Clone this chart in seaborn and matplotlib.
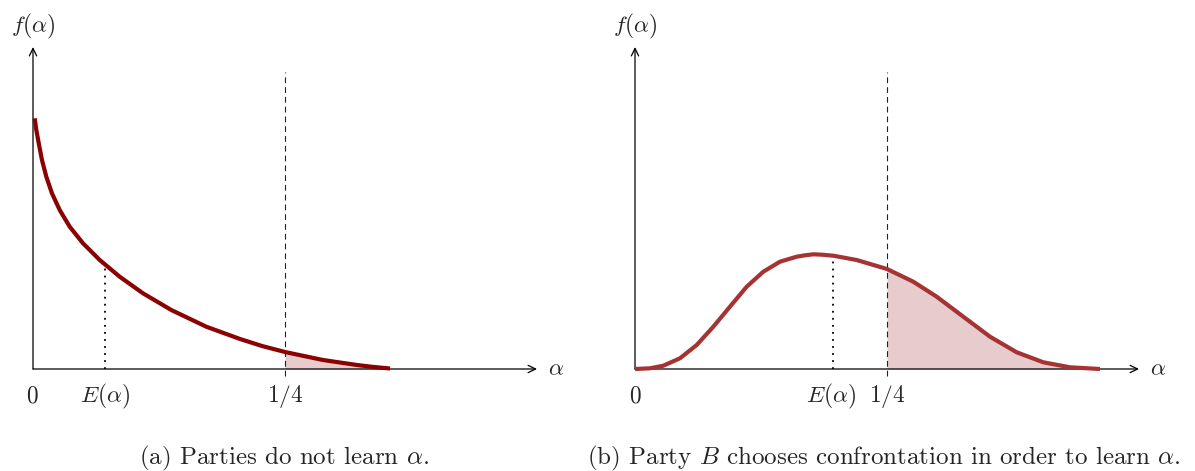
import numpy as np
import pandas as pd
import matplotlib
matplotlib.use("Agg")
import matplotlib.pyplot as plt
import seaborn as sns

# Density without learning: decreasing curve on [0, ~0.35]
alpha_a = [0.0017, 0.0033, 0.0057, 0.0089, 0.0132, 0.0188, 0.0265, 0.0364,
           0.0496, 0.0662, 0.0860, 0.1091, 0.1372, 0.1719, 0.2054, 0.2272,
           0.2500, 0.2688, 0.2877, 0.3214, 0.3363, 0.3542]
dens_a = [2.507, 2.390, 2.257, 2.090, 1.923, 1.757, 1.590, 1.423,
          1.257, 1.090, 0.923, 0.757, 0.590, 0.423, 0.300, 0.230,
          0.170, 0.130, 0.090, 0.040, 0.022, 0.005]

# Density when party B learns: hump-shaped curve on [0, ~0.46]
alpha_b = [0.0, 0.0149, 0.0281, 0.0446, 0.0612, 0.0777, 0.0942, 0.1108,
           0.1273, 0.1438, 0.1604, 0.1687, 0.1769, 0.1855, 0.1967, 0.2199,
           0.2500, 0.2761, 0.2993, 0.3257, 0.3522, 0.3787, 0.4051, 0.4315,
           0.4613]
dens_b = [0.0, 0.007, 0.033, 0.107, 0.240, 0.423, 0.623, 0.823,
          0.973, 1.073, 1.123, 1.137, 1.147, 1.143, 1.133, 1.090,
          1.000, 0.873, 0.723, 0.523, 0.323, 0.167, 0.067, 0.017,
          0.0]

threshold = 0.25
mean_a = 0.0714
mean_b = 0.1964

tick_labels_a = ["$0$", r"$E(\alpha)$", "$1/4$"]
tick_labels_b = ["$0$", r"$E(\alpha)$", "$1/4$"]
captions = [r"(a) Parties do not learn $\alpha$.",
            r"(b) Party $B$ chooses confrontation in order to learn $\alpha$."]

sns.set_theme(style="white")
plt.rcParams["mathtext.fontset"] = "cm"
plt.rcParams["font.family"] = ["cmr10", "DejaVu Serif"]
plt.rcParams["axes.formatter.use_mathtext"] = True

W, H = 1195, 471
fig = plt.figure(figsize=(W / 100, H / 100), dpi=100)

FS_LAB = 16.8
FS_CAP = 18.0
PX_X = 1008.0   # pixels per unit alpha
PX_Y = 100.0    # pixels per unit density
ORIGIN_Y = 369


def make_axes(left_px, right_px, origin_x):
    ax = fig.add_axes([left_px / W, 0, (right_px - left_px) / W, 1])
    ax.set_xlim((left_px - origin_x) / PX_X, (right_px - origin_x) / PX_X)
    ax.set_ylim((ORIGIN_Y - H) / PX_Y, ORIGIN_Y / PX_Y)
    ax.set_axis_off()
    return ax


def draw_panel(ax, xs, ys, mean, color, fill, labels, lab_pos, caption, cap_x):
    df = pd.DataFrame({"alpha": xs, "f": ys})
    # coordinate axes with arrow heads
    arrow = dict(arrowstyle="->,head_length=0.45,head_width=0.22", lw=0.9,
                 color="black", shrinkA=0, shrinkB=0)
    ax.annotate("", xy=(0.5, 0), xytext=(0, 0), arrowprops=arrow)
    ax.annotate("", xy=(0, 3.22), xytext=(0, 0), arrowprops=arrow)
    ax.text(0.519, 0.0, r"$\alpha$", fontsize=FS_LAB, ha="center", va="center")
    ax.text(0.0, 3.43, r"$f(\alpha)$", fontsize=FS_LAB, ha="center", va="center")

    # shaded tail beyond the threshold
    tail = df[df["alpha"] >= threshold]
    ax.fill_between(tail["alpha"], 0, tail["f"], color=fill, lw=0, zorder=1)

    # threshold and mean markers
    ax.plot([threshold, threshold], [-0.07, 2.97], color="#222222", lw=0.8,
            linestyle=(0, (5.2, 3.6)), zorder=2)
    f_mean = np.interp(mean, xs, ys)
    ax.plot([mean, mean], [0, f_mean], color="black", lw=1.3,
            linestyle=(0, (1.0, 2.9)), zorder=2)

    sns.lineplot(data=df, x="alpha", y="f", ax=ax, color=color, lw=3.0,
                 sort=False, legend=False, zorder=3)
    ax.lines[-1].set_solid_capstyle("butt")
    ax.lines[-1].set_solid_joinstyle("round")
    ax.set_axis_off()

    for lab, xpos in zip(labels, lab_pos):
        ax.text(xpos, -0.335, lab, fontsize=FS_LAB, ha="center", va="baseline")
    ax.text(cap_x, -0.95, caption, fontsize=FS_CAP, ha="center", va="baseline")


ax1 = make_axes(0, 597, 33)
draw_panel(ax1, alpha_a, dens_a, mean_a, "#8b0000", "#e6cccc",
           tick_labels_a, [-0.001, mean_a, threshold], captions[0],
           (284 - 33) / PX_X)

ax2 = make_axes(597, 1195, 635)
draw_panel(ax2, alpha_b, dens_b, mean_b, "#a63333", "#e6cccc",
           tick_labels_b, [0.0, mean_b - 0.002, threshold], captions[1],
           (884 - 635) / PX_X)

fig.savefig("out.png", dpi=100)
